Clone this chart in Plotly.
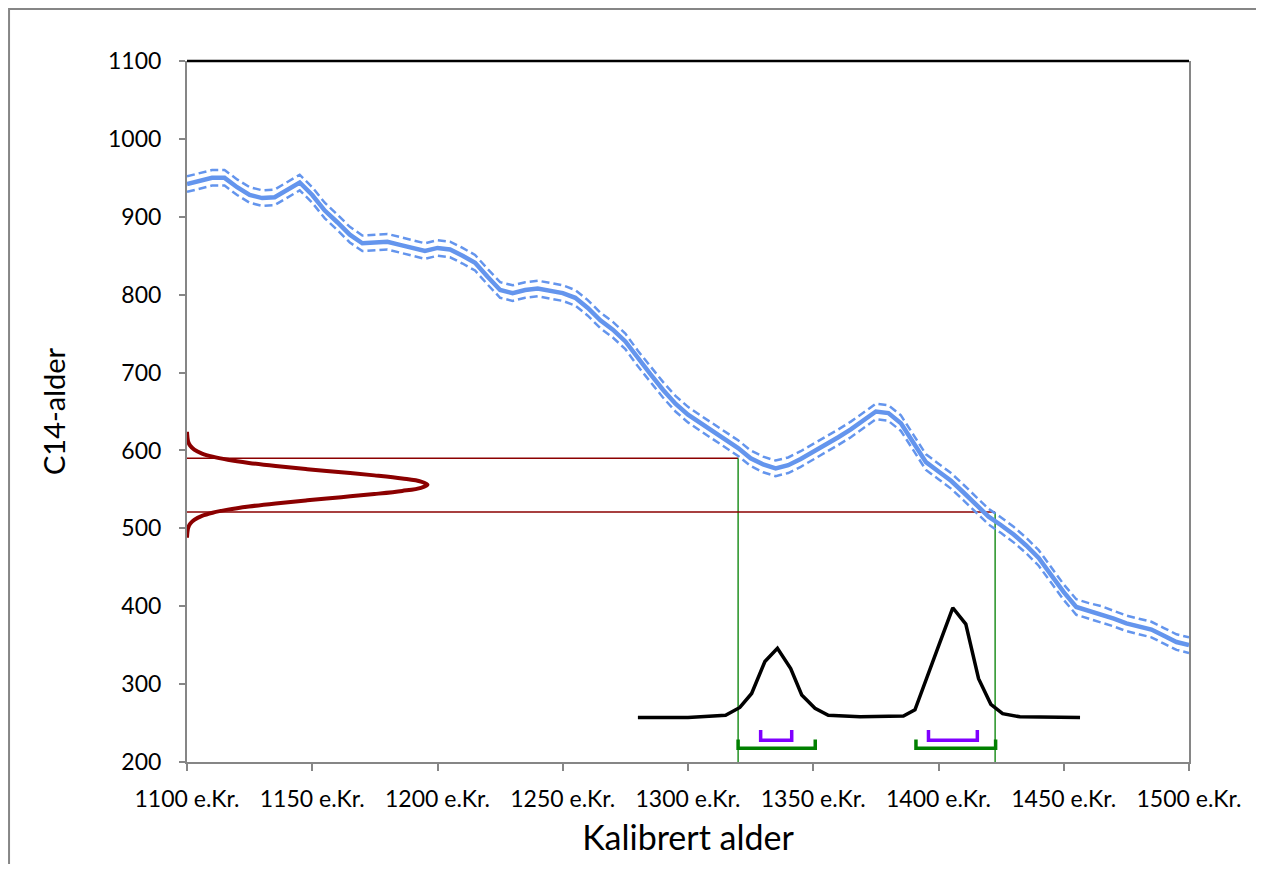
import plotly.graph_objects as go

# Calibration curve (calendar year AD, C14 age)
cal_years = [1100, 1105, 1110, 1115, 1120, 1125, 1130, 1135, 1140, 1145, 1150, 1155,
             1160, 1165, 1170, 1175, 1180, 1185, 1190, 1195, 1200, 1205, 1210, 1215,
             1220, 1225, 1230, 1235, 1240, 1245, 1250, 1255, 1260, 1265, 1270, 1275,
             1280, 1285, 1290, 1295, 1300, 1305, 1310, 1315, 1320, 1325, 1330, 1335,
             1340, 1345, 1350, 1355, 1360, 1365, 1370, 1375, 1380, 1385, 1390, 1395,
             1400, 1405, 1410, 1415, 1420, 1425, 1430, 1435, 1440, 1445, 1450, 1455,
             1460, 1465, 1470, 1475, 1480, 1485, 1490, 1495, 1500]
c14_mid = [942, 946, 950, 950, 938, 928, 924, 925, 935, 944, 928, 908,
           893, 877, 866, 867, 868, 864, 860, 856, 860, 858, 850, 841,
           823, 806, 802, 806, 808, 805, 802, 796, 783, 767, 755, 740,
           718, 698, 678, 660, 646, 635, 624, 613, 603, 590, 582, 577,
           581, 589, 598, 607, 617, 627, 639, 650, 648, 635, 610, 585,
           573, 561, 546, 530, 515, 504, 492, 478, 462, 440, 418, 399,
           394, 390, 384, 378, 374, 370, 362, 354, 350]
c14_upper = [952, 956, 960, 960, 948, 938, 934, 935, 945, 954, 938, 918,
             903, 887, 876, 877, 878, 874, 870, 866, 870, 868, 860, 851,
             833, 816, 812, 816, 818, 815, 812, 806, 793, 777, 765, 750,
             728, 708, 688, 670, 656, 645, 634, 623, 613, 600, 592, 587,
             591, 599, 608, 617, 627, 637, 649, 660, 658, 645, 620, 595,
             583, 571, 556, 540, 525, 514, 502, 488, 472, 450, 428, 409,
             404, 400, 394, 388, 384, 380, 372, 364, 360]
c14_lower = [932, 936, 940, 940, 928, 918, 914, 915, 925, 934, 918, 898,
             883, 867, 856, 857, 858, 854, 850, 846, 850, 848, 840, 831,
             813, 796, 792, 796, 798, 795, 792, 786, 773, 757, 745, 730,
             708, 688, 668, 650, 636, 625, 614, 603, 593, 580, 572, 567,
             571, 579, 588, 597, 607, 617, 629, 640, 638, 625, 600, 575,
             563, 551, 536, 520, 505, 494, 482, 468, 452, 430, 408, 389,
             384, 380, 374, 368, 364, 360, 352, 344, 340]

# Measured C14 age distribution (drawn along the y axis)
meas_age = [488, 491, 496, 501, 506, 511, 516, 520, 524, 528, 532, 536, 540, 544,
            548, 552, 556, 560, 564, 568, 572, 576, 580, 584, 588, 592, 596,
            601, 606, 611, 616, 621, 624]
meas_width = [0.0, 0.05, 0.2, 0.5, 1.3, 2.9, 6.0, 10.2, 16.3, 24.7, 35.4, 48.0, 61.6,
              74.8, 85.9, 93.4, 96.0, 93.4, 85.9, 74.8, 61.6, 48.0, 35.4, 24.7, 16.3,
              10.2, 6.0, 2.9, 1.3, 0.5, 0.2, 0.05, 0.0]
meas_base = 1100

# Calibrated age distribution (drawn above a baseline)
calib_years = [1280, 1300, 1315, 1320.7, 1325.4, 1330.7, 1335.7, 1341, 1345.4, 1350.7,
               1356, 1368.7, 1386, 1390.6, 1400.6, 1405.7, 1410.9, 1416, 1420.9,
               1425.6, 1432.5, 1456.5]
calib_vals = [257, 257, 260, 270, 288, 329, 346, 320, 286, 269,
              260, 258, 259, 267, 354, 398, 377, 307, 274,
              262, 258, 257]

# Guide lines
sigma2_ages = [590, 521]
guide_years = [1320, 1422.6]

# Probability ranges
range_1s = [(1329, 1341.4), (1396, 1415.5)]
range_2s = [(1320, 1350.8), (1391, 1422.8)]
bracket_1s = (241, 228)
bracket_2s = (229, 217.5)

x_ticks = [1100, 1150, 1200, 1250, 1300, 1350, 1400, 1450, 1500]
x_labels = [f"{v} e.Kr." for v in x_ticks]
y_ticks = [200, 300, 400, 500, 600, 700, 800, 900, 1000, 1100]

BLUE = "#6495ED"
RED = "#8B0000"
GREEN = "#008000"
PURPLE = "#8000FF"

fig = go.Figure()

# guide lines
for age, yr in zip(sigma2_ages, guide_years):
    fig.add_trace(go.Scatter(x=[meas_base, yr], y=[age, age], mode="lines",
                             line=dict(color=RED, width=1.3), hoverinfo="skip"))
    fig.add_trace(go.Scatter(x=[yr, yr], y=[age, 200], mode="lines",
                             line=dict(color=GREEN, width=1.3), hoverinfo="skip"))

fig.add_trace(go.Scatter(x=cal_years, y=c14_upper, mode="lines",
                         line=dict(color=BLUE, width=2.5, dash="8px,4px")))
fig.add_trace(go.Scatter(x=cal_years, y=c14_lower, mode="lines",
                         line=dict(color=BLUE, width=2.5, dash="8px,4px")))
fig.add_trace(go.Scatter(x=cal_years, y=c14_mid, mode="lines",
                         line=dict(color=BLUE, width=4.5)))

fig.add_trace(go.Scatter(x=[meas_base + w for w in meas_width], y=meas_age, mode="lines",
                         line=dict(color=RED, width=4, shape="spline"), cliponaxis=False))

fig.add_trace(go.Scatter(x=calib_years, y=calib_vals, mode="lines",
                         line=dict(color="black", width=3.5)))

for (a, b) in range_1s:
    fig.add_trace(go.Scatter(x=[a, a, b, b], y=[bracket_1s[0], bracket_1s[1], bracket_1s[1], bracket_1s[0]],
                             mode="lines", line=dict(color=PURPLE, width=3.5)))
for (a, b) in range_2s:
    fig.add_trace(go.Scatter(x=[a, a, b, b], y=[bracket_2s[0], bracket_2s[1], bracket_2s[1], bracket_2s[0]],
                             mode="lines", line=dict(color=GREEN, width=3.5)))

FONT = "Lato, 'Open Sans', sans-serif"
fig.update_layout(
    width=1256, height=856,
    margin=dict(l=179, r=75, t=53, b=102),
    paper_bgcolor="white", plot_bgcolor="white",
    showlegend=False,
    font=dict(family=FONT, color="black", size=23),
    xaxis=dict(range=[1100, 1500], tickvals=x_ticks, ticktext=x_labels,
               showgrid=False, zeroline=False, showline=True, linecolor="#868686",
               linewidth=2, ticks="outside", ticklen=7, tickcolor="#868686",
               tickwidth=2, tickfont=dict(size=23, family=FONT), ticklabelstandoff=8,
               title=dict(text="Kalibrert alder", font=dict(size=34, family=FONT), standoff=16)),
    yaxis=dict(range=[200, 1100], tickvals=y_ticks, showgrid=False, zeroline=False,
               showline=True, linecolor="#868686", linewidth=2, mirror=True,
               ticks="outside", ticklen=6, tickcolor="#868686", tickwidth=2,
               tickfont=dict(size=23, family=FONT), ticklabelstandoff=13,
               title=dict(text="C14-alder", font=dict(size=29, family=FONT), standoff=34)),
    shapes=[
        dict(type="line", xref="paper", yref="paper", x0=0, x1=1, y0=1, y1=1,
             line=dict(color="black", width=2.5)),
        dict(type="rect", xref="paper", yref="paper", x0=-0.1776, x1=1.0739,
             y0=-0.17, y1=1.0742, line=dict(color="#868686", width=2), layer="below"),
    ],
)

fig.write_html("out.html")
